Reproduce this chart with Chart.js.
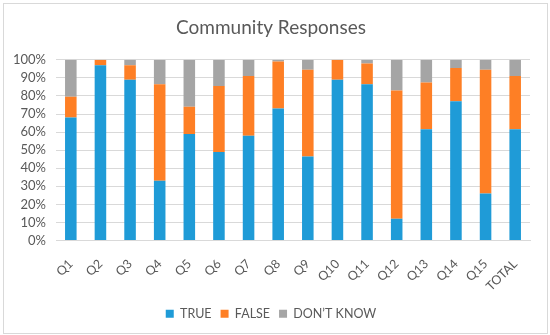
<!DOCTYPE html>
<html>
<head>
<meta charset="utf-8">
<script src="https://cdn.jsdelivr.net/npm/chart.js@4"></script>
<style>
  html, body { margin: 0; padding: 0; background: #fff; }
  #wrap { position: absolute; left: 3px; top: 3px; width: 543px; height: 329px; border: 1px solid #d9d9d9; }
  canvas { display: block; }
</style>
</head>
<body>
<div id="wrap"><canvas id="myChart" width="543" height="329"></canvas></div>
<script>
var questions = ["Q1", "Q2", "Q3", "Q4", "Q5", "Q6", "Q7", "Q8", "Q9", "Q10", "Q11", "Q12", "Q13", "Q14", "Q15", "TOTAL"];
var trueAnswers = [68, 97, 89, 33, 59, 49, 58, 73, 46.5, 89, 86.5, 12, 61.5, 77, 26, 61.5];
var falseAnswers = [11.5, 3, 8, 53.5, 15, 36.5, 33, 26, 48, 11, 11.5, 71, 26, 18.5, 68.5, 29.5];
var dontKnow = [20.5, 0, 3, 13.5, 26, 14.5, 9, 1, 5.5, 0, 2, 17, 12.5, 4.5, 5.5, 9];

var textColor = "#595959";

Chart.defaults.font.family = "Lato, 'Open Sans', sans-serif";
Chart.defaults.color = textColor;

function drawChart() {
    var ctx = document.getElementById("myChart").getContext("2d");

    var myChart = new Chart(ctx, {
        type: "bar",
        data: {
            labels: questions,
            datasets: [
                { label: "TRUE", data: trueAnswers, backgroundColor: "#1f9bd7" },
                { label: "FALSE", data: falseAnswers, backgroundColor: "#fe7f25" },
                { label: "DON\u2019T KNOW", data: dontKnow, backgroundColor: "#a5a5a5" }
            ]
        },
        options: {
            responsive: false,
            animation: false,
            layout: { padding: { left: 8, right: 17, top: 8, bottom: 3 } },
            datasets: { bar: { categoryPercentage: 1, barPercentage: 0.39 } },
            plugins: {
                title: {
                    display: true,
                    text: "Community Responses",
                    color: textColor,
                    font: { size: 19, weight: "normal" },
                    padding: { top: 4, bottom: 21 }
                },
                legend: {
                    position: "bottom",
                    labels: {
                        boxWidth: 8,
                        boxHeight: 8,
                        padding: 9,
                        color: textColor,
                        font: { size: 12.5 }
                    }
                },
                tooltip: { enabled: false }
            },
            scales: {
                x: {
                    stacked: true,
                    grid: { display: false },
                    border: { color: "#d9d9d9" },
                    ticks: { autoSkip: false, maxRotation: 45, minRotation: 45, padding: 8, color: textColor, font: { size: 12.5 } },
                    afterFit: function (scale) {
                        scale.height = 58;
                        scale.paddingLeft = 0;
                        scale.paddingRight = 0;
                    }
                },
                y: {
                    stacked: true,
                    min: 0,
                    max: 100,
                    ticks: {
                        autoSkip: false,
                        stepSize: 10,
                        padding: 10,
                        color: textColor,
                        font: { size: 13 },
                        callback: function (v) { return v + "%"; }
                    },
                    grid: { color: "#d9d9d9", drawTicks: false },
                    border: { display: false },
                    afterFit: function (scale) {
                        scale.width = 44;
                    }
                }
            }
        }
    });
}

window.onload = drawChart;
</script>
</body>
</html>
